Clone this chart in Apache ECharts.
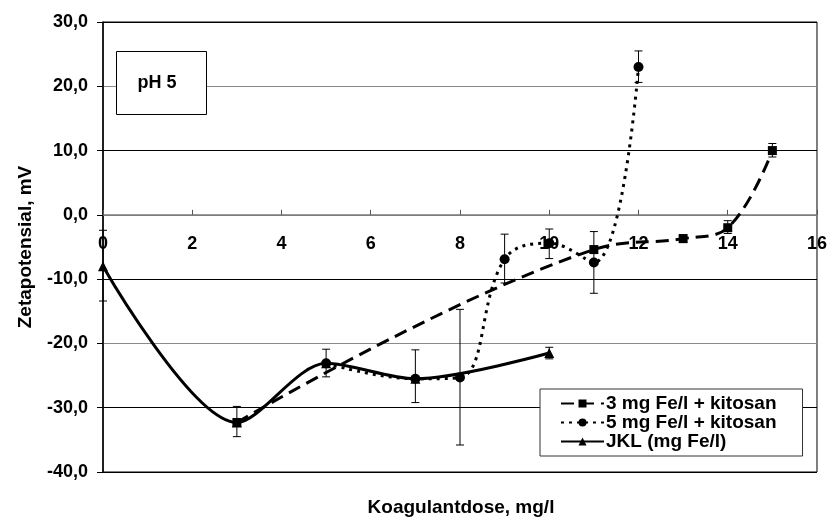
<!DOCTYPE html>
<html>
<head>
<meta charset="utf-8">
<script src="https://cdn.jsdelivr.net/npm/echarts@6/dist/echarts.min.js"></script>
<style>
html,body{margin:0;padding:0;background:#fff;}
#chart{width:830px;height:520px;}
</style>
</head>
<body>
<div id="chart"></div>
<script>
// ---- data ----
var seriesNames = ['3 mg Fe/l + kitosan', '5 mg Fe/l + kitosan', 'JKL (mg Fe/l)'];

var x1 = [3, 11, 13, 14, 15];
var y1 = [-32.3, -5.4, -3.7, -2.0, 10.0];

var x2 = [5, 7, 8, 9, 10, 11, 12];
var y2 = [-23.1, -25.5, -25.3, -6.9, -4.4, -7.4, 23.0];

var x3 = [0, 3, 5, 7, 10];
var y3 = [-8.0, -32.3, -23.1, -25.5, -21.5];

// error bars: x, low, high
var e1x = [3, 13, 14, 15];
var e1lo = [-34.5, -4.3, -2.9, 9.0];
var e1hi = [-29.8, -3.1, -0.9, 11.1];

var e2x = [7, 8, 9, 10, 11, 12];
var e2lo = [-29.2, -35.8, -10.6, -6.8, -12.2, 20.6];
var e2hi = [-21.0, -14.7, -3.0, -2.2, -2.6, 25.5];

var e3x = [0, 5, 10];
var e3lo = [-13.4, -25.2, -22.4];
var e3hi = [-2.4, -20.9, -20.6];

var xTicks = {min: 0, max: 16, interval: 2};
var yTicks = {min: -40, max: 30, interval: 10};

var xTitle = 'Koagulantdose, mg/l';
var yTitle = 'Zetapotensial, mV';
var boxLabel = 'pH 5';

// ---- build ----
function pairs(xs, ys) { return xs.map(function (v, i) { return [v, ys[i]]; }); }
function errData(xs, lo, hi) { return xs.map(function (v, i) { return [v, lo[i], hi[i]]; }); }

var FONT = '"Liberation Sans", Arial, sans-serif';
var GRID = {left: 103, right: 9, top: 22, bottom: 48};
var PLOT_H = 520 - GRID.top - GRID.bottom;
// move the x axis up from the bottom of the plot to the zero line
var xAxisOffset = -PLOT_H * (0 - yTicks.min) / (yTicks.max - yTicks.min);

function errRender(params, api) {
  var x = api.value(0);
  var lo = api.coord([x, api.value(1)]);
  var hi = api.coord([x, api.value(2)]);
  var cap = 4;
  var st = {stroke: '#000', lineWidth: 1};
  return {
    type: 'group',
    children: [
      {type: 'line', shape: {x1: lo[0], y1: lo[1], x2: hi[0], y2: hi[1]}, style: st},
      {type: 'line', shape: {x1: lo[0] - cap, y1: lo[1], x2: lo[0] + cap, y2: lo[1]}, style: st},
      {type: 'line', shape: {x1: hi[0] - cap, y1: hi[1], x2: hi[0] + cap, y2: hi[1]}, style: st}
    ]
  };
}

var chart = echarts.init(document.getElementById('chart'), null, {renderer: 'canvas'});

var option = {
  animation: false,
  backgroundColor: '#fff',
  textStyle: {fontFamily: FONT},
  grid: {left: GRID.left, right: GRID.right, top: GRID.top, bottom: GRID.bottom, show: true, borderColor: '#000', borderWidth: 1, backgroundColor: 'transparent'},
  xAxis: {
    type: 'value', min: xTicks.min, max: xTicks.max, interval: xTicks.interval,
    position: 'bottom', offset: xAxisOffset,
    axisLine: {onZero: false, lineStyle: {color: '#7a7a7a', width: 1.5}},
    axisTick: {inside: true, length: 5, lineStyle: {color: '#555'}},
    axisLabel: {margin: 20, color: '#000', fontWeight: 'bold', fontSize: 18, fontFamily: FONT,
      formatter: function (v) { return String(v); }},
    splitLine: {show: false}
  },
  yAxis: {
    type: 'value', min: yTicks.min, max: yTicks.max, interval: yTicks.interval,
    name: yTitle, nameLocation: 'middle', nameGap: 68,
    nameTextStyle: {fontWeight: 'bold', fontSize: 19, color: '#000', fontFamily: FONT},
    axisLine: {show: true, onZero: false, lineStyle: {color: '#000', width: 1.5}},
    axisTick: {show: true, inside: false, length: 6, lineStyle: {color: '#000'}},
    axisLabel: {margin: 15, color: '#000', fontWeight: 'bold', fontSize: 18, fontFamily: FONT,
      formatter: function (v) { return v.toFixed(1).replace('.', ','); }},
    splitLine: {show: true, lineStyle: {color: ['#000', '#000', '#8a8a8a', '#000', '#8a8a8a', '#000', '#8a8a8a', '#000'], width: 1.2}}
  },
  legend: {
    orient: 'vertical', left: 540, top: 389,
    padding: [5, 26, 5, 20], itemGap: 0, itemWidth: 43, itemHeight: 10,
    backgroundColor: '#fff', borderColor: '#333', borderWidth: 1,
    textStyle: {fontWeight: 'bold', fontSize: 19, color: '#000', fontFamily: FONT, lineHeight: 18, padding: [0, 0, 0, -3]},
    data: seriesNames
  },
  graphic: [
    {type: 'rect', left: 116, top: 51, shape: {width: 90, height: 63}, style: {fill: '#fff', stroke: '#000', lineWidth: 1}, z: 100},
    {type: 'text', x: 157, y: 83, style: {text: boxLabel, fill: '#000', font: 'bold 18px ' + FONT, textAlign: 'center', textVerticalAlign: 'middle'}, z: 101},
    {type: 'text', x: 461, y: 508, style: {text: xTitle, fill: '#000', font: 'bold 19px ' + FONT, textAlign: 'center', textVerticalAlign: 'middle'}, z: 101}
  ],
  series: [
    {name: seriesNames[0], type: 'line', data: pairs(x1, y1), smooth: 0.4,
      symbol: 'rect', symbolSize: 9, itemStyle: {color: '#000'},
      lineStyle: {color: '#000', width: 3, type: [13, 7]}, z: 3},
    {name: seriesNames[1], type: 'line', data: pairs(x2, y2), smooth: 0.4,
      symbol: 'circle', symbolSize: 10, itemStyle: {color: '#000'},
      lineStyle: {color: '#000', width: 3, type: [3, 5]}, z: 3},
    {name: seriesNames[2], type: 'line', data: pairs(x3, y3), smooth: 0.3,
      symbol: 'triangle', symbolSize: 10, itemStyle: {color: '#000'},
      lineStyle: {color: '#000', width: 3}, z: 3},
    {type: 'custom', renderItem: errRender, data: errData(e1x, e1lo, e1hi), z: 4, silent: true},
    {type: 'custom', renderItem: errRender, data: errData(e2x, e2lo, e2hi), z: 4, silent: true},
    {type: 'custom', renderItem: errRender, data: errData(e3x, e3lo, e3hi), z: 4, silent: true}
  ]
};
chart.setOption(option);
</script>
</body>
</html>
